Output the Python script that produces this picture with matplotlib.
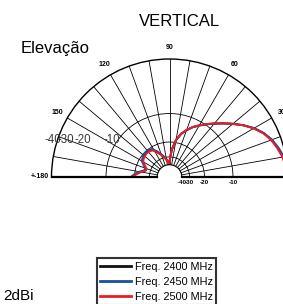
import numpy as np
import matplotlib
matplotlib.use("Agg")
import matplotlib.pyplot as plt
from matplotlib.lines import Line2D

plt.rcParams['font.family'] = ['Liberation Sans', 'DejaVu Sans']

# ---------------- data ----------------
angles_deg = [0, 5, 10, 15, 20, 25, 30, 35, 40, 45, 50, 55, 60, 65, 70, 75, 80, 85, 88, 91,
              94, 98, 104, 110, 116, 122, 128, 134, 140, 145, 150, 155, 160, 165, 170, 175, 180]
gain_2500 = [-0.3, -0.2, -0.45, -0.9, -1.4, -2.1, -3.1, -4.3, -5.7, -7.1, -8.4, -9.7, -11.0,
             -12.3, -13.9, -15.8, -18.8, -24.0, -30.0, -40.0,
             -37.0, -34.0, -30.5, -27.4, -24.5, -21.9, -21.2, -21.1, -21.4, -21.8, -22.5,
             -24.5, -26.3, -26.3, -23.5, -21.0, -19.0]
gain_2450 = [-0.1, 0.0, -0.25, -0.7, -1.25, -2.0, -3.0, -4.3, -5.7, -7.1, -8.5, -9.8, -11.1,
             -12.4, -14.0, -15.9, -18.9, -24.0, -30.0, -40.0,
             -36.0, -33.0, -29.5, -26.5, -23.5, -21.0, -20.3, -20.2, -20.5, -21.0, -21.6,
             -23.5, -25.3, -25.3, -22.5, -20.0, -18.3]
gain_2400 = [-0.2, -0.1, -0.35, -0.8, -1.3, -2.05, -3.05, -4.3, -5.7, -7.1, -8.45, -9.75, -11.05,
             -12.35, -13.95, -15.85, -18.85, -24.0, -30.0, -40.0,
             -36.5, -33.5, -30.0, -27.0, -24.0, -21.5, -20.8, -20.7, -21.0, -21.4, -22.0,
             -24.0, -25.8, -25.8, -23.0, -20.5, -18.6]
series_labels = ['Freq. 2400 MHz', 'Freq. 2450 MHz', 'Freq. 2500 MHz']
series_colors = ['#111111', '#1b4f9c', '#ec1c24']
ring_levels = [-40, -30, -20, -10, 0]
theta_ticks = list(range(0, 181, 10))
theta_labels = {30: '30', 60: '60', 90: '90', 120: '120', 150: '150', 180: '+-180'}

W, H = 283, 304


def radius(db):
    db = np.asarray(db, dtype=float)
    return 3.76 + 114.24 * 10 ** (db / 35.5)


def fx(x):
    return x / W


def fy(y):
    return 1 - y / H


fig = plt.figure(figsize=(W / 100, H / 100), dpi=100)
cx, cy, R = 169.5, 177.0, 118.0
# polar wedge bbox is kept square: the half disk fills the upper 3/4 of a square box
ax = fig.add_axes([fx(cx - R), fy(cy + R / 2), 2 * R / W, 2 * R / H], projection='polar')
ax.set_thetamin(0)
ax.set_thetamax(180)
ax.set_rorigin(0)
ax.set_ylim(radius(-40), radius(0))

ax.set_xticks(np.deg2rad(theta_ticks))
ax.set_xticklabels([theta_labels.get(t, '') for t in theta_ticks])
ax.set_yticks(radius(ring_levels[1:-1]))
ax.set_yticklabels([])
ax.grid(True, color='black', lw=0.6)
ax.tick_params(axis='x', length=0, pad=1.2, labelsize=5.0)
for lab in ax.get_xticklabels():
    lab.set_fontweight('bold')
ax.spines['polar'].set_linewidth(1.0)
ax.spines['inner'].set_linewidth(0.8)
ax.spines['start'].set_linewidth(1.6)
ax.spines['end'].set_linewidth(1.6)

th = np.deg2rad(angles_deg)
for g, c, lab in zip([gain_2400, gain_2450, gain_2500], series_colors, series_labels):
    ax.plot(th, radius(g), color=c, lw=1.4, label=lab, solid_joinstyle='round')

for v in ring_levels[:-1]:
    ax.annotate(str(v), xy=(0, radius(v)), xytext=(0, -3.6), textcoords='offset points',
                ha='center', va='center', fontsize=4.5, fontweight='bold', annotation_clip=False)

# overlapping grey radial labels on the left
for txt, x in zip(['-40', '-30', '-20', '-10'], [52.5, 66, 83, 112]):
    fig.text(fx(x), fy(140), txt, ha='center', va='center', fontsize=8.3, color='#3a3a3a')

fig.text(fx(179), fy(21), 'VERTICAL', ha='center', va='center', fontsize=12)
fig.text(fx(21), fy(48), 'Elevação', ha='left', va='center', fontsize=12)
fig.text(fx(3), fy(296), '2dBi', ha='left', va='center', fontsize=11)

handles = [Line2D([], [], color=c, lw=2.0) for c in series_colors]
leg = fig.legend(handles, series_labels, loc='upper left', bbox_to_anchor=(fx(96.7), fy(258.3)),
                 borderaxespad=0, fontsize=7.8, frameon=True, fancybox=False,
                 handlelength=2.9, handletextpad=0.3, labelspacing=0.48, borderpad=0.3)
leg.get_frame().set_edgecolor('black')
leg.get_frame().set_linewidth(1.5)

fig.savefig('out.png', dpi=100)
